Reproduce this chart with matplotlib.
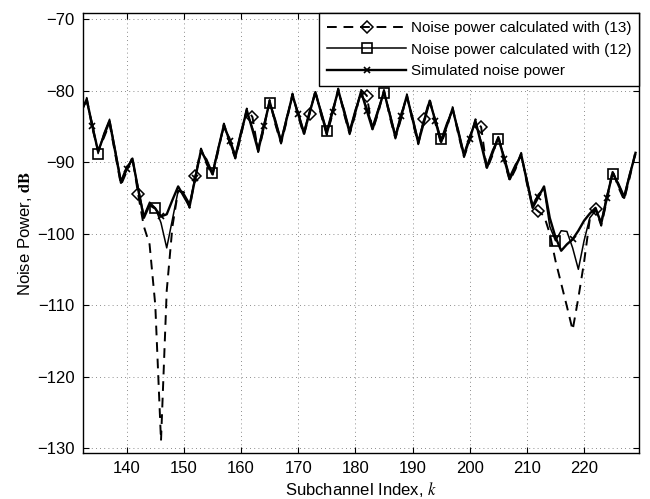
import numpy as np
import matplotlib
matplotlib.use("Agg")
import matplotlib.pyplot as plt

plt.rcParams["font.family"] = ["Liberation Sans", "DejaVu Sans"]
plt.rcParams["mathtext.fontset"] = "stix"

# subchannel index k = 132 ... 229
k = np.arange(132, 230)

# simulated noise power (dB)
sim = [-83.0, -81.2, -85.0, -88.5, -86.3, -84.3, -88.6, -92.9, -91.0, -89.5,
       -93.8, -97.8, -96.0, -96.5, -97.6, -97.3, -95.3, -93.4, -94.8, -96.2,
       -92.2, -88.3, -90.0, -91.7, -88.2, -84.8, -87.0, -89.3, -86.0, -82.7,
       -85.5, -88.4, -85.0, -81.5, -84.4, -87.2, -83.9, -80.6, -83.3, -86.0,
       -83.1, -80.2, -83.1, -86.0, -83.0, -79.9, -82.9, -85.9, -83.0, -80.1,
       -82.8, -85.4, -82.8, -80.1, -83.3, -86.5, -83.6, -80.7, -84.0, -87.3,
       -84.4, -81.4, -84.3, -87.2, -84.9, -82.5, -85.8, -89.1, -86.7, -84.2,
       -87.5, -90.8, -88.7, -86.5, -89.5, -92.4, -90.7, -88.9, -92.7, -96.4,
       -94.9, -93.4, -97.8, -100.5, -102.4, -101.5, -100.8, -99.6, -98.2, -97.2,
       -96.4, -98.6, -95.0, -91.4, -93.2, -95.0, -91.8, -88.7]

# noise power calculated with (12)
eq12 = [-82.6, -81.6, -84.6, -88.8, -86.0, -84.0, -88.2, -92.6, -90.6, -89.8,
        -93.5, -97.5, -95.6, -96.4, -98.5, -102.0, -98.0, -94.0, -94.4, -95.8,
        -92.0, -88.6, -89.6, -91.5, -88.0, -85.2, -86.6, -89.0, -85.6, -83.0,
        -85.2, -88.0, -84.7, -81.7, -84.0, -86.9, -83.6, -80.9, -83.0, -85.7,
        -82.8, -80.5, -82.8, -85.6, -82.6, -80.2, -82.5, -85.5, -82.6, -80.4,
        -82.4, -85.0, -82.5, -80.3, -83.0, -86.2, -83.2, -81.0, -83.6, -87.0,
        -84.0, -81.7, -84.0, -86.8, -84.5, -82.8, -85.4, -88.8, -86.3, -84.5,
        -87.1, -90.5, -88.3, -86.7, -89.1, -92.0, -90.3, -89.2, -92.3, -96.0,
        -94.5, -93.7, -99.0, -101.0, -99.6, -99.7, -102.0, -105.0, -101.0, -97.8,
        -96.8, -98.3, -94.6, -91.7, -92.9, -94.7, -91.5, -89.0]

# noise power calculated with (13)
eq13 = [-83.2, -81.0, -85.3, -88.4, -86.6, -84.6, -88.9, -93.2, -91.3, -89.3,
        -94.5, -99.0, -101.5, -110.0, -129.0, -108.0, -99.0, -94.0, -94.2, -96.4,
        -92.0, -88.1, -90.3, -91.9, -88.5, -84.6, -87.3, -89.5, -86.3, -82.5,
        -83.7, -88.6, -85.3, -81.3, -84.7, -87.4, -84.2, -80.4, -83.6, -86.2,
        -83.2, -80.0, -83.4, -86.2, -83.3, -79.7, -83.2, -86.1, -83.3, -79.9,
        -80.7, -85.6, -83.1, -79.9, -83.6, -86.7, -83.9, -80.5, -84.3, -87.5,
        -84.0, -81.2, -84.6, -87.4, -85.2, -82.3, -86.1, -89.3, -87.0, -84.0,
        -85.1, -91.0, -89.0, -86.3, -89.8, -92.6, -91.0, -88.7, -93.0, -96.2,
        -96.9, -97.5, -100.0, -103.8, -107.0, -110.2, -113.5, -109.0, -104.0, -98.0,
        -96.5, -98.9, -95.3, -91.2, -93.5, -95.3, -92.1, -88.5]

labels = ["Noise power calculated with (13)",
          "Noise power calculated with (12)",
          "Simulated noise power"]

fig = plt.figure(figsize=(6.5, 4.99), dpi=100)
ax = fig.add_axes([0.1272, 0.0922, 0.8558, 0.8808])

ax.plot(k, eq13, color="k", lw=1.4, ls=(0, (5, 3.5)), marker="D", ms=6.5,
        mfc="none", mec="k", mew=1.1, markevery=slice(10, None, 10), label=labels[0])
ax.plot(k, eq12, color="k", lw=1.1, marker="s", ms=7.5,
        mfc="none", mec="k", mew=1.2, markevery=slice(3, None, 10), label=labels[1])
ax.plot(k, sim, color="k", lw=1.7, marker="x", ms=4.5,
        mec="k", mew=1.2, markevery=slice(2, None, 6), label=labels[2])

ax.set_xlim(132.3, 229.6)
ax.set_ylim(-130.7, -69.2)
ax.set_xticks(np.arange(140, 221, 10))
ax.set_yticks(np.arange(-130, -69, 10))
ax.tick_params(direction="in", top=True, right=True, labelsize=12, length=4, pad=6)
ax.grid(True, ls=(0, (1, 4)), color="k", lw=0.6, alpha=0.6)
for s in ax.spines.values():
    s.set_linewidth(1.0)

ax.set_xlabel(r"Subchannel Index, $k$", fontsize=12, labelpad=3)
ax.set_ylabel(r"Noise Power, $\mathbf{dB}$", fontsize=12, labelpad=2)

leg = ax.legend(loc="upper right", borderaxespad=0, fontsize=11, fancybox=False,
                edgecolor="k", framealpha=1, handlelength=5.2, handletextpad=0.3,
                labelspacing=0.5, borderpad=0.5)
leg.get_frame().set_linewidth(1.0)

fig.savefig("out.png", dpi=100)
